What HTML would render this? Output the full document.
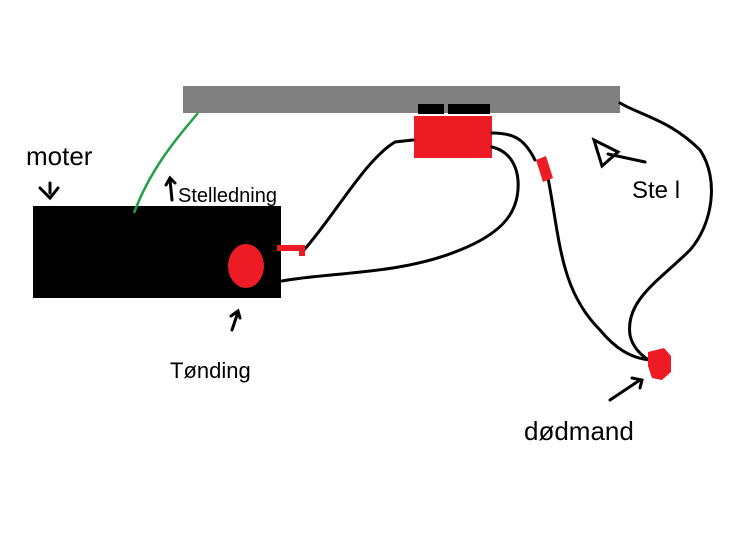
<!DOCTYPE html>
<html><head><style>
html,body{margin:0;padding:0;background:#fff;width:730px;height:548px;overflow:hidden}
svg{display:block}
text{font-family:"Liberation Sans",sans-serif;fill:#000}
</style></head><body>
<svg width="730" height="548" viewBox="0 0 730 548">
<rect x="183" y="86" width="437" height="27" fill="#808080"/>
<rect x="418" y="104" width="26" height="10" fill="#000"/>
<rect x="448" y="104" width="42" height="10" fill="#000"/>
<rect x="414" y="116" width="78" height="42" fill="#ed1c24"/>
<rect x="33" y="206" width="248" height="92" fill="#000"/>
<ellipse cx="246" cy="266" rx="18" ry="22" fill="#ed1c24"/>
<path d="M198 113 C175 140,150 170,134 213" stroke="#22a048" stroke-width="2.5" fill="none"/>
<g stroke="#000" stroke-width="3" fill="none" stroke-linecap="round">
<path d="M304 250 C335 215,365 160,395 142 L413 140"/>
<path d="M282 281 C330 272,400 275,460 250 C505 232,520 210,518 180 C516 160,505 150,492 147"/>
<path d="M492 133 C515 133,525 140,535 160 M548 178 C560 240,560 290,600 330 C615 348,630 358,650 360"/>
<path d="M620 103 C640 115,670 120,700 150 C720 180,712 225,690 250 C660 280,625 300,630 335 C633 350,645 358,652 362"/>
<path d="M50 183 L50 193 M40 188 L50 198 L58 188"/>
<path d="M232 330 L238 312 M231 316 L238 311 L240 318"/>
<path d="M172 200 L170 180 M166 185 L170 178 L175 183"/>
<path d="M610 400 L640 380 M632 378 L642 380 L640 388"/>
<path d="M594 140 L618 152 L602 166 Z M608 154 L645 162"/>
</g>
<path d="M277 248 L302 248 L302 256" stroke="#ed1c24" stroke-width="6" fill="none"/>
<path d="M536 160 L546 156 L553 178 L543 182 Z" fill="#ed1c24"/>
<path d="M648 352 L664 348 L671 356 L671 372 L662 380 L652 378 L648 366 Z" fill="#ed1c24"/>
<text x="26" y="165" font-size="26">moter</text>
<text x="178" y="202" font-size="20">Stelledning</text>
<text x="170" y="378" font-size="22">Tønding</text>
<text x="524" y="440" font-size="26">dødmand</text>
<text x="632" y="198" font-size="24">Ste l</text>
</svg>
</body></html>
